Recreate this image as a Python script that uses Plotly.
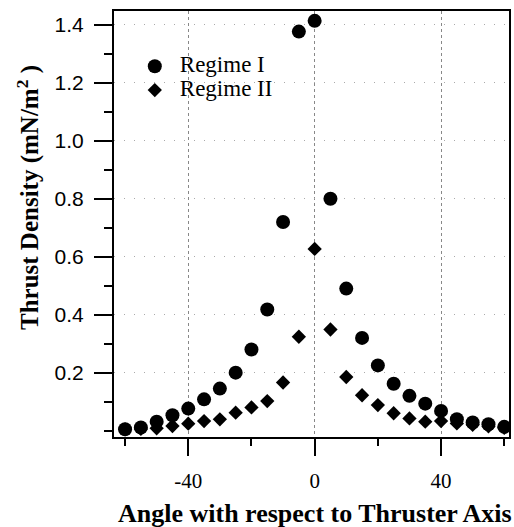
import plotly.graph_objects as go

angles = [-60, -55, -50, -45, -40, -35, -30, -25, -20, -15, -10, -5, 0,
          5, 10, 15, 20, 25, 30, 35, 40, 45, 50, 55, 60]
regime1 = [0.005, 0.011, 0.031, 0.053, 0.076, 0.108, 0.145, 0.200, 0.280,
           0.418, 0.720, 1.377, 1.414, 0.800, 0.490, 0.320, 0.225, 0.162,
           0.120, 0.093, 0.068, 0.039, 0.028, 0.022, 0.013]
regime2 = [0.004, 0.006, 0.008, 0.016, 0.024, 0.033, 0.039, 0.062, 0.080,
           0.102, 0.166, 0.324, 0.627, 0.349, 0.185, 0.122, 0.088, 0.060,
           0.042, 0.031, 0.033, 0.025, 0.020, 0.015, 0.010]
x_ticks = [-40, 0, 40]
x_ticktext = ["-40", "0", "40"]
y_ticks = [0.2, 0.4, 0.6, 0.8, 1.0, 1.2, 1.4]
y_ticktext = ["0.2", "0.4", "0.6", "0.8", "1.0", "1.2", "1.4"]

serif = "Liberation Serif, Times New Roman, serif"
sans = "Liberation Sans, Arial, sans-serif"

fig = go.Figure()
fig.add_trace(go.Scatter(x=angles, y=regime1, mode="markers",
                         name='<span style="font-size:23px">Regime I</span>',
                         marker=dict(symbol="circle", size=14, color="black")))
fig.add_trace(go.Scatter(x=angles, y=regime2, mode="markers",
                         name='<span style="font-size:23px">Regime II</span>',
                         marker=dict(symbol="diamond", size=11, color="black")))

fig.update_layout(
    width=514, height=527,
    margin=dict(l=114, r=3, t=11, b=90),
    plot_bgcolor="white", paper_bgcolor="white",
    showlegend=True,
    legend=dict(x=0.04, y=0.91, xanchor="left", yanchor="top",
                bgcolor="rgba(0,0,0,0)", font=dict(family=serif, size=16, color="black"),
                itemwidth=40, tracegroupgap=0),
    xaxis=dict(range=[-63.5, 61.5], tickvals=x_ticks, ticktext=x_ticktext, ticks="outside",
               ticklen=17, tickwidth=2, tickcolor="black",
               minor=dict(dtick=20, tick0=0, ticks="outside", ticklen=7, tickwidth=2,
                          tickcolor="black", showgrid=False),
               showline=True, linewidth=2, linecolor="black", mirror=True,
               showgrid=True, gridcolor="#888", griddash="dot", gridwidth=1,
               zeroline=False, ticklabelstandoff=7,
               tickfont=dict(family=serif, size=21, color="black")),
    yaxis=dict(range=[-0.022, 1.448], tickvals=y_ticks, ticktext=y_ticktext,
               ticks="outside", ticklen=18, tickwidth=2, tickcolor="black",
               minor=dict(dtick=0.1, tick0=0, ticks="outside", ticklen=8, tickwidth=2,
                          tickcolor="black", showgrid=False),
               showline=True, linewidth=2, linecolor="black", mirror=True,
               showgrid=True, gridcolor="#aaa", griddash="1px 9px", gridwidth=1,
               zeroline=False, ticklabelstandoff=6,
               tickfont=dict(family=sans, size=21, color="black")),
    annotations=[
        dict(text="<b>Angle with respect to Thruster Axis</b>", xref="paper", yref="paper",
             x=0.509, y=0, yshift=-76, xanchor="center", yanchor="middle", showarrow=False,
             font=dict(family=serif, size=26, color="black")),
        dict(text="<b>Thrust Density (mN/m<sup>2</sup> )</b>", xref="paper", yref="paper",
             x=0, xshift=-86, y=0.561, xanchor="center", yanchor="middle", showarrow=False,
             textangle=-90, font=dict(family=serif, size=25, color="black")),
    ],
)

fig.write_html("out.html")
